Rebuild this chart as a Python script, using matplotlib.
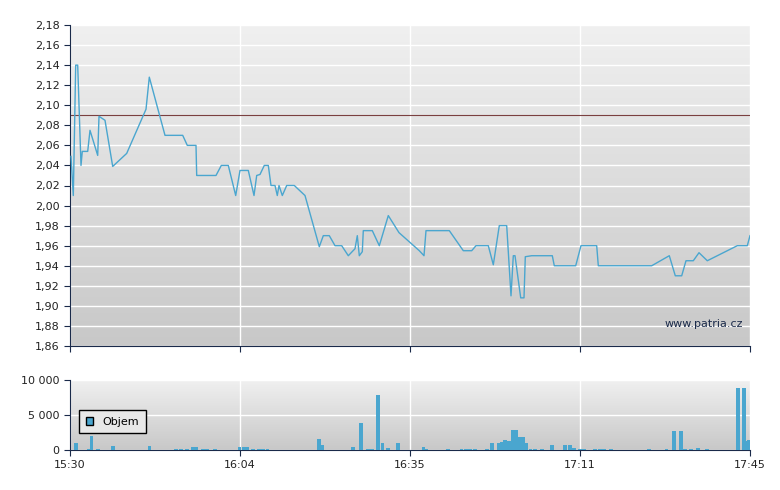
import numpy as np
import matplotlib
matplotlib.use("Agg")
import matplotlib.pyplot as plt
from matplotlib.ticker import FuncFormatter, FixedLocator
from matplotlib.patches import Patch

# x = session position (0 = 15:30, 680 = 17:45, ticks every 170)
price_t = [1, 3.3, 5.7, 7.7, 11, 12.3, 17.7, 20, 27.7, 29, 35, 42.7, 56.7, 76, 79.3, 95, 112.7, 117.3,
           126, 126.7, 146, 151.3, 158.3, 165.7, 170, 178.3, 184, 186.7, 190, 194.3, 198.3, 201, 205,
           207.3, 209, 212.3, 216.7, 224.3, 235, 249.3, 253.3, 259.3, 265, 271.7, 278.3, 285, 287.3,
           289.3, 292.3, 293.3, 302.3, 309.3, 318.3, 329, 349.3,
           354, 356, 379.3, 393.3, 401.7, 406, 418.3, 423.3, 429.3, 436.7, 441, 443.3, 445, 450.7,
           454, 455.3, 461.7, 482.3, 484.3, 505.7, 511, 526.7, 528.3, 581.7, 599.3, 605.3, 611.7,
           616, 623.3, 629, 637.3, 667.3, 677.3, 680]
price = [2.049, 2.010, 2.14, 2.14, 2.04, 2.054, 2.054, 2.075, 2.05, 2.089, 2.085, 2.039, 2.052, 2.096,
         2.128, 2.07, 2.07, 2.06, 2.06, 2.03, 2.03, 2.04, 2.04, 2.01, 2.035, 2.035, 2.01, 2.03, 2.031,
         2.04, 2.04, 2.02, 2.02, 2.01, 2.02, 2.01, 2.02, 2.02, 2.01, 1.959, 1.97, 1.97, 1.96, 1.96,
         1.95, 1.957, 1.97, 1.95, 1.954, 1.975, 1.975, 1.96, 1.99, 1.973, 1.955,
         1.95, 1.975, 1.975, 1.955, 1.955, 1.96, 1.96, 1.941, 1.98, 1.98, 1.91, 1.95, 1.95, 1.908,
         1.908, 1.949, 1.95, 1.95, 1.94, 1.94, 1.96, 1.96, 1.94, 1.94, 1.95, 1.93, 1.93,
         1.945, 1.945, 1.953, 1.945, 1.96, 1.96, 1.97]
ref_price = 2.09

vol_t = [5.8, 19.2, 21.4, 28.1, 42.8, 79.4, 106, 110.6, 117.3, 123, 126.2, 132.9, 137.3, 145.3,
         169.4, 173.9, 177.4, 182.8, 188.6, 193, 197.5, 248.8, 251.9, 283.1, 291.1, 297.8, 302.3,
         308.1, 312.4, 317.9, 328.1, 353.5, 355.8, 378, 391.4, 395.9, 400.3, 404.8, 417.3, 421.7,
         428.4, 431.6, 435.1, 439.1, 442.7, 445.8, 449.4, 452.9, 456.1, 460.5, 465, 471.7, 481.9,
         495.3, 499.8, 504.2, 509.6, 514, 525.2, 529.6, 534.1, 540.8, 578.7, 596.5, 604.1, 610.8,
         615.3, 621, 627.7, 636.6, 667.8, 673.6, 675.8, 679]
vol = [1050, 150, 2000, 150, 580, 580, 150, 150, 150, 430, 430, 150, 150, 150,
       430, 430, 430, 150, 150, 150, 150, 1600, 720, 430, 3900, 150, 150,
       7900, 1000, 290, 1000, 430, 150, 150, 150, 150, 150, 150, 150, 1000,
       1000, 1200, 1440, 1300, 2900, 2900, 1870, 1870, 1000, 150, 150, 150, 720,
       720, 720, 290, 150, 150, 150, 150, 150, 150, 150, 150, 2750, 2750,
       150, 150, 290, 150, 8900, 8900, 1350, 1450]

tick_pos = [0, 170, 340, 510, 680]
tick_labels = ["15:30", "16:04", "16:35", "17:11", "17:45"]

navy = "#1a2a4a"
blue = "#4aa6cf"
grad = np.linspace(0, 1, 256).reshape(-1, 1)
cmap = matplotlib.colors.LinearSegmentedColormap.from_list("bg", ["#f0f0f0", "#c8c8c8"])

fig = plt.figure(figsize=(7.8, 4.9), dpi=100)
ax1 = fig.add_axes([70/780, 1-346/490, 680/780, 321/490])
ax2 = fig.add_axes([70/780, 40/490, 680/780, 70/490])

def style(ax):
    ax.imshow(grad, cmap=cmap, aspect="auto", extent=[0, 1, 0, 1], transform=ax.transAxes, zorder=0)
    ax.grid(True, color="white", lw=1, zorder=1)
    ax.set_axisbelow(True)
    for s in ["top", "right"]:
        ax.spines[s].set_visible(False)
    for s in ["left", "bottom"]:
        ax.spines[s].set_color(navy)
    ax.tick_params(colors=navy, labelsize=8, length=4, labelcolor="#222")
    ax.set_xlim(0, 680)
    ax.xaxis.set_major_locator(FixedLocator(tick_pos))

style(ax1)
ax1.plot(price_t, price, color=blue, lw=1, zorder=3)
ax1.axhline(ref_price, color="#7a4040", lw=0.8, zorder=2)
ax1.set_ylim(1.86, 2.18)
ax1.set_yticks(np.arange(1.86, 2.181, 0.02))
ax1.yaxis.set_major_formatter(FuncFormatter(lambda v, p: f"{v:.2f}".replace(".", ",")))
ax1.set_xticklabels([])
ax1.text(0.99, 0.06, "www.patria.cz", transform=ax1.transAxes, ha="right", fontsize=8, color=navy)

style(ax2)
ax2.bar(vol_t, vol, width=3.8, color=blue, zorder=3)
ax2.set_ylim(0, 10000)
ax2.set_yticks([0, 5000, 10000])
ax2.yaxis.set_major_formatter(FuncFormatter(lambda v, p: f"{int(v):,}".replace(",", " ")))
ax2.set_xticklabels(tick_labels)
leg = ax2.legend(handles=[Patch(facecolor=blue, edgecolor="black", label="Objem")],
                 loc="upper left", bbox_to_anchor=(0.005, 0.65), fontsize=8, fancybox=False,
                 handlelength=0.7, handleheight=0.7, borderpad=0.6, framealpha=1)
leg.get_frame().set_edgecolor("black")
leg.get_frame().set_facecolor("#e8e8e8")

fig.savefig("out.png", dpi=100)
